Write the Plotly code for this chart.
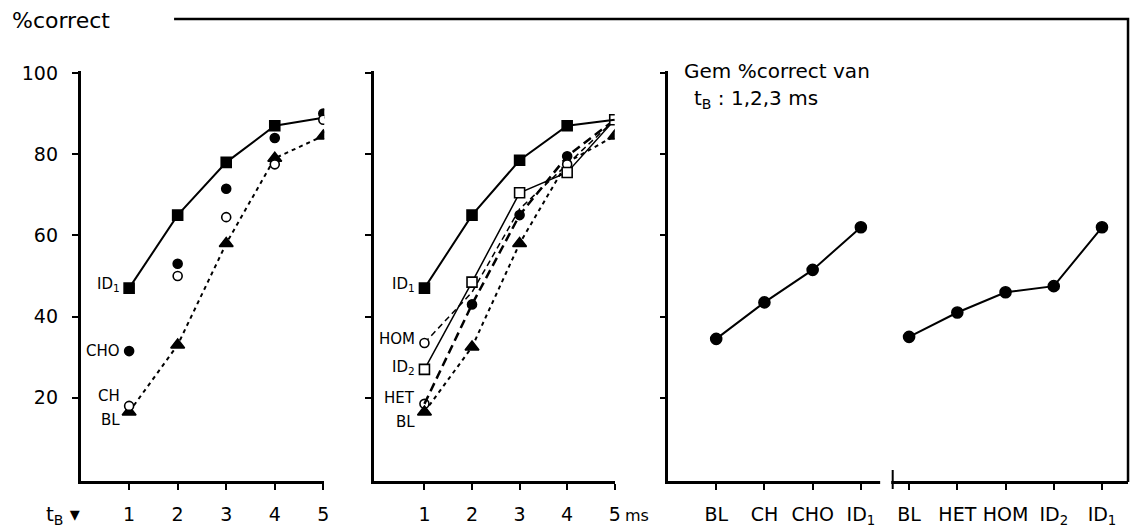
import plotly.graph_objects as go

t_b = [1, 2, 3, 4, 5]

# left panel
left_id1 = [47, 65, 78, 87, 89]
left_cho = [31.5, 53, 71.5, 84, 90]
left_ch = [18, 50, 64.5, 77.5, 88.5]
left_bl = [16.5, 33, 58, 79, 84.5]

# middle panel
mid_id1 = [47, 65, 78.5, 87, 88.5]
mid_hom = [33.5, 46, 66.5, 77.5, 88.5]
mid_id2 = [27, 48.5, 70.5, 75.5, 88.5]
mid_het = [18.5, 43, 65, 79.5, 88.5]
mid_bl = [16.5, 32.5, 58, 78, 84.5]

# right panel: mean % correct for tB = 1,2,3 ms
cats_a = ["BL", "CH", "CHO", "ID<sub>1</sub>"]
mean_a = [34.5, 43.5, 51.5, 62]
cats_b = ["BL", "HET", "HOM", "ID<sub>2</sub>", "ID<sub>1</sub>"]
mean_b = [35, 41, 46, 47.5, 62]

FONT = "DejaVu Sans"
W, H = 1138, 528


def px(x):
    return x / W


def py(y):
    # screen y -> paper y (the page shows up ~8px lower and a bit squeezed)
    return 1 - ((y - 8) / 0.983) / H


fig = go.Figure()


def add(x, y, ax, symbol, fill="black", size=10, dash=None, width=2, show_line=True):
    fig.add_trace(go.Scatter(
        x=x, y=y, xaxis=ax[0], yaxis=ax[1],
        mode="lines+markers" if show_line else "markers",
        line=dict(color="black", width=width, dash=dash),
        marker=dict(symbol=symbol, size=size, color=fill, opacity=1,
                    line=dict(color="black", width=1.6)),
        showlegend=False, hoverinfo="skip",
    ))


L = ("x", "y")
M = ("x2", "y2")
R = ("x3", "y3")

# left
add(t_b, left_bl, L, "triangle-up", size=12, dash="4px,4px")
add(t_b, left_id1, L, "square", size=[10, 10, 10, 10, 0])
add(t_b, left_cho, L, "circle", size=9, show_line=False)
add(t_b, left_ch, L, "circle", fill="white", size=9, show_line=False)

# middle
add(t_b, mid_bl, M, "triangle-up", size=[12, 12, 12, 0, 12], dash="4px,4px")
add(t_b, mid_het, M, ["circle-open", "circle", "circle", "circle", "circle"],
    size=[9, 9, 9, 9, 0], dash="9px,5px", width=2.5)
add(t_b, mid_hom, M, "circle", fill="white", size=[9, 0, 0, 9, 0], dash="6px,4px", width=1.5)
add(t_b, mid_id2, M, "square", fill="white", size=10, width=1.5)
add(t_b, mid_id1, M, "square", size=[10, 10, 10, 10, 0])

# right
pos_a = list(range(len(cats_a)))
pos_b = list(range(len(cats_a), len(cats_a) + len(cats_b)))
add(pos_a, mean_a, R, "circle", size=11)
add(pos_b, mean_b, R, "circle", size=11)

axis_style = dict(
    showline=True, linecolor="black", linewidth=2.5,
    ticks="outside", ticklen=6, tickwidth=2, tickcolor="black",
    showgrid=False, zeroline=False,
    tickfont=dict(family=FONT, size=19, color="black"),
)
y_dom = [py(480), py(70)]
yticks = [20, 40, 60, 80, 100]

fig.update_layout(
    width=W, height=H,
    margin=dict(l=0, r=0, t=0, b=0),
    paper_bgcolor="white", plot_bgcolor="white",
    xaxis=dict(axis_style, domain=[px(81), px(326)], range=[0, 5.02],
               tickvals=t_b, ticktext=[str(v) for v in t_b],
               ticklabelstandoff=8, anchor="y"),
    yaxis=dict(axis_style, domain=y_dom, range=[-0.5, 100.5],
               tickvals=yticks, ticklabelstandoff=10, anchor="x"),
    xaxis2=dict(axis_style, domain=[px(376), px(618)], range=[-0.06, 5.0],
                tickvals=t_b, ticktext=[str(v) for v in t_b],
                ticklabelstandoff=8, anchor="y2"),
    yaxis2=dict(axis_style, domain=y_dom, range=[-0.5, 100.5],
                tickvals=yticks, showticklabels=False, anchor="x2"),
    xaxis3=dict(axis_style, domain=[px(672), px(1134)], range=[-0.99, 8.54],
                tickvals=pos_a + pos_b, ticktext=cats_a + cats_b,
                ticklabelstandoff=8, anchor="y3"),
    yaxis3=dict(axis_style, domain=y_dom, range=[-0.5, 100.5],
                tickvals=yticks, showticklabels=False, anchor="x3"),
)

# frame line across the top and down the right side
fig.add_shape(type="path", xref="paper", yref="paper",
              path=f"M {px(175)} {py(18)} L {px(1134)} {py(18)} L {px(1134)} {py(481)}",
              line=dict(color="black", width=2.5))

# axis break in the right panel
fig.add_shape(type="rect", xref="x3", yref="paper", x0=3.4, x1=3.63,
              y0=py(486), y1=py(475), fillcolor="white", line=dict(width=0), layer="above")
fig.add_shape(type="line", xref="x3", yref="paper", x0=3.66, x1=3.66,
              y0=py(488), y1=py(469), line=dict(color="black", width=2))

ann_font = dict(family=FONT, size=15, color="black")


def label(text, x, y, xref, yref, anchor="right", size=15, xshift=-7):
    fig.add_annotation(text=text, x=x, y=y, xref=xref, yref=yref,
                       xanchor=anchor, yanchor="middle", showarrow=False,
                       xshift=xshift, font=dict(ann_font, size=size))


label("ID<sub>1</sub>", 1, left_id1[0] + 1, "x", "y")
label("CHO", 1, left_cho[0], "x", "y")
label("CH", 1, 20.5, "x", "y")
label("BL", 1, 14.5, "x", "y")

label("ID<sub>1</sub>", 1, mid_id1[0] + 1, "x2", "y2")
label("HOM", 1, 34.5, "x2", "y2")
label("ID<sub>2</sub>", 1, mid_id2[0] + 0.5, "x2", "y2")
label("HET", 1, 20, "x2", "y2")
label("BL", 1, 14, "x2", "y2")

label("%correct", px(10), py(20), "paper", "paper", anchor="left", size=22, xshift=0)
label("t<sub>B</sub> \u25be", px(44), py(514), "paper", "paper", anchor="left", size=20, xshift=0)
label("ms", 5, py(515), "x2", "paper", anchor="left", size=16, xshift=8)
label("Gem %correct van", px(686), py(70), "paper", "paper", anchor="left", size=20, xshift=0)
label("t<sub>B</sub> : 1,2,3 ms", px(696), py(98), "paper", "paper", anchor="left", size=20, xshift=0)

# drop the default page margin so the figure fits the window
fig.write_html("out.html", config={"displayModeBar": False},
               post_script="document.body.style.margin = '0';")
